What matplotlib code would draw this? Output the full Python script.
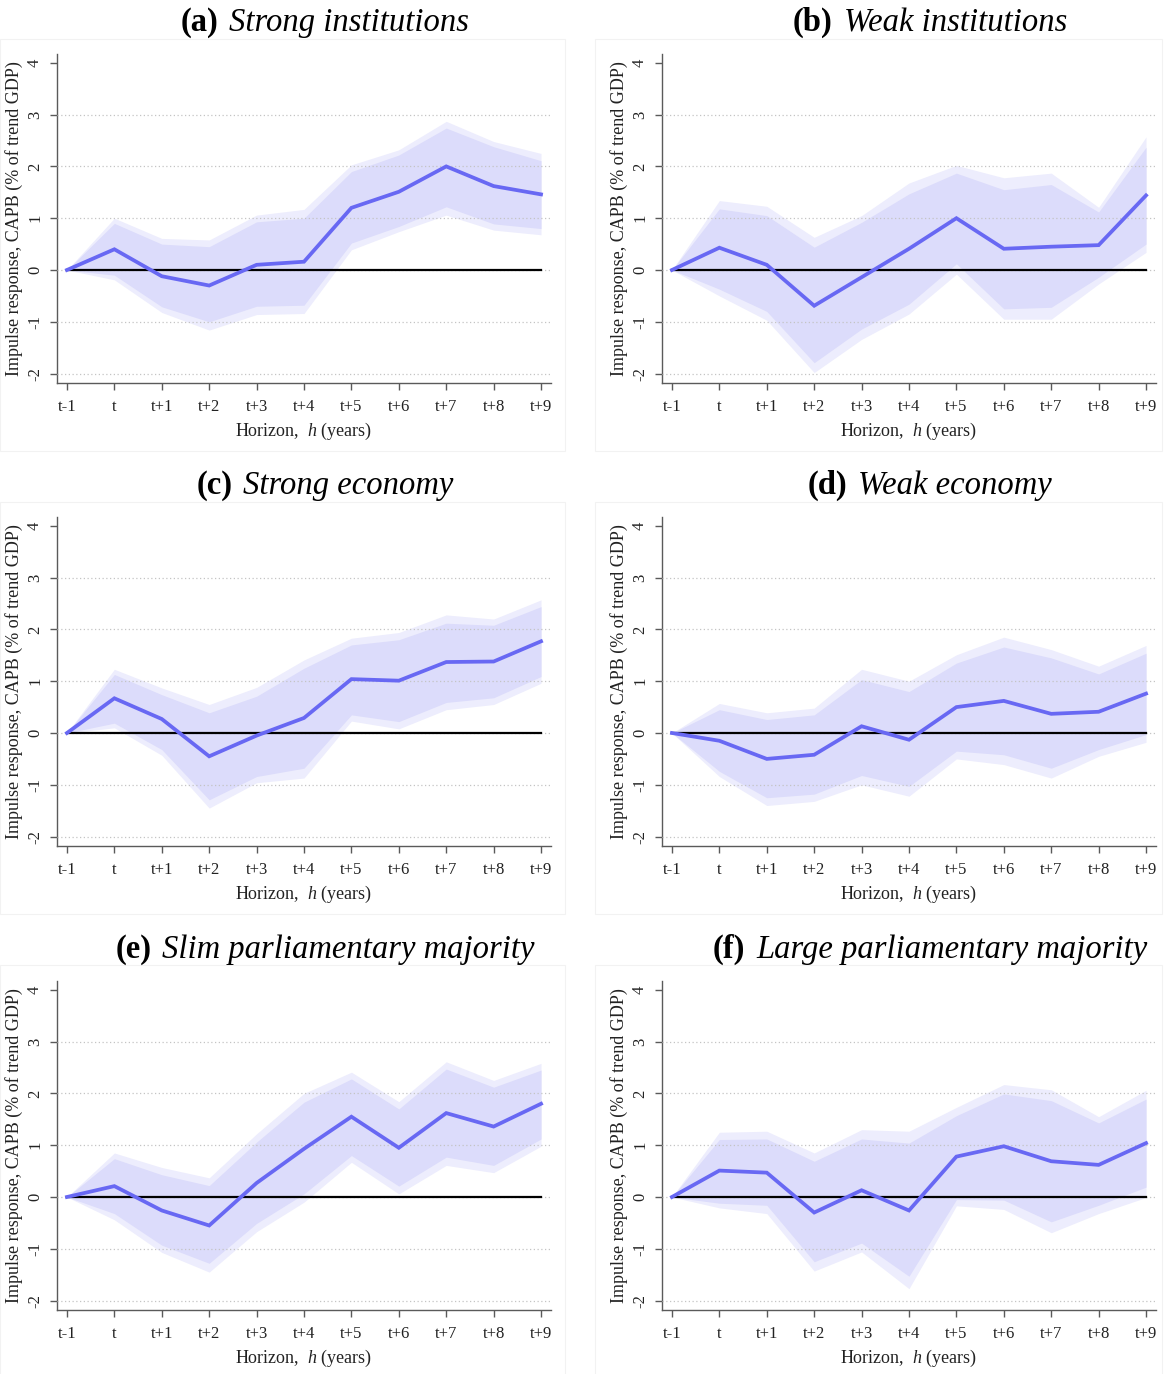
import matplotlib
matplotlib.use("Agg")
import matplotlib.pyplot as plt
from matplotlib.patches import Rectangle

# ---------------------------------------------------------------- data
horizons = ["t-1", "t", "t+1", "t+2", "t+3", "t+4", "t+5", "t+6", "t+7", "t+8", "t+9"]
yticks = [-2, -1, 0, 1, 2, 3, 4]
grid_levels = [-2, -1, 0, 1, 2, 3]

panel_tags = ["(a)", "(b)", "(c)", "(d)", "(e)", "(f)"]
panel_names = ["Strong institutions", "Weak institutions",
               "Strong economy", "Weak economy",
               "Slim parliamentary majority", "Large parliamentary majority"]

# (a) Strong institutions
a_irf  = [0, 0.40, -0.12, -0.30, 0.10, 0.16, 1.20, 1.51, 2.00, 1.62, 1.46]
a_hi68 = [0, 0.90, 0.50, 0.45, 0.93, 1.00, 1.90, 2.22, 2.74, 2.38, 2.11]
a_hi90 = [0, 1.00, 0.61, 0.58, 1.06, 1.17, 2.03, 2.32, 2.87, 2.48, 2.25]
a_lo68 = [0, -0.10, -0.71, -1.00, -0.70, -0.68, 0.52, 0.84, 1.22, 0.89, 0.80]
a_lo90 = [0, -0.19, -0.82, -1.16, -0.86, -0.84, 0.39, 0.74, 1.06, 0.77, 0.68]

# (b) Weak institutions
b_irf  = [0, 0.43, 0.10, -0.69, -0.14, 0.41, 1.00, 0.41, 0.45, 0.48, 1.44]
b_hi68 = [0, 1.18, 1.05, 0.44, 0.92, 1.47, 1.87, 1.55, 1.65, 1.12, 2.37]
b_hi90 = [0, 1.34, 1.23, 0.63, 1.05, 1.68, 2.02, 1.78, 1.87, 1.21, 2.57]
b_lo68 = [0, -0.37, -0.80, -1.79, -1.14, -0.66, 0.12, -0.75, -0.72, -0.14, 0.50]
b_lo90 = [0, -0.50, -0.97, -1.98, -1.34, -0.85, -0.08, -0.95, -0.95, -0.27, 0.34]

# (c) Strong economy
c_irf  = [0, 0.67, 0.27, -0.45, -0.05, 0.29, 1.04, 1.01, 1.37, 1.38, 1.77]
c_hi68 = [0, 1.13, 0.74, 0.39, 0.71, 1.25, 1.70, 1.80, 2.12, 2.08, 2.44]
c_hi90 = [0, 1.23, 0.87, 0.55, 0.88, 1.41, 1.83, 1.94, 2.28, 2.20, 2.57]
c_lo68 = [0, 0.19, -0.32, -1.29, -0.84, -0.68, 0.35, 0.22, 0.59, 0.68, 1.09]
c_lo90 = [0, 0.10, -0.43, -1.45, -0.96, -0.87, 0.23, 0.08, 0.45, 0.55, 0.96]

# (d) Weak economy
d_irf  = [0, -0.15, -0.50, -0.42, 0.13, -0.13, 0.50, 0.62, 0.37, 0.41, 0.76]
d_hi68 = [0, 0.45, 0.26, 0.35, 1.03, 0.80, 1.35, 1.66, 1.45, 1.14, 1.54]
d_hi90 = [0, 0.57, 0.39, 0.48, 1.23, 1.00, 1.51, 1.85, 1.61, 1.29, 1.69]
d_lo68 = [0, -0.74, -1.25, -1.18, -0.82, -1.03, -0.35, -0.42, -0.68, -0.32, -0.03]
d_lo90 = [0, -0.84, -1.40, -1.32, -1.00, -1.22, -0.50, -0.61, -0.87, -0.45, -0.18]

# (e) Slim parliamentary majority
e_irf  = [0, 0.21, -0.26, -0.55, 0.27, 0.93, 1.55, 0.95, 1.62, 1.36, 1.80]
e_hi68 = [0, 0.74, 0.43, 0.22, 1.06, 1.83, 2.28, 1.70, 2.47, 2.12, 2.45]
e_hi90 = [0, 0.85, 0.57, 0.37, 1.22, 2.00, 2.41, 1.84, 2.61, 2.25, 2.58]
e_lo68 = [0, -0.32, -0.93, -1.28, -0.51, 0.06, 0.80, 0.21, 0.77, 0.61, 1.12]
e_lo90 = [0, -0.44, -1.07, -1.45, -0.67, -0.10, 0.67, 0.06, 0.61, 0.47, 0.98]

# (f) Large parliamentary majority
f_irf  = [0, 0.51, 0.47, -0.30, 0.13, -0.26, 0.78, 0.98, 0.69, 0.62, 1.04]
f_hi68 = [0, 1.11, 1.12, 0.69, 1.12, 1.04, 1.57, 1.99, 1.86, 1.43, 1.89]
f_hi90 = [0, 1.25, 1.27, 0.85, 1.30, 1.27, 1.73, 2.17, 2.07, 1.55, 2.06]
f_lo68 = [0, -0.12, -0.16, -1.25, -0.89, -1.53, -0.05, -0.06, -0.48, -0.16, 0.19]
f_lo90 = [0, -0.21, -0.32, -1.43, -1.06, -1.77, -0.17, -0.24, -0.69, -0.32, -0.01]

panels = [
    (a_irf, a_lo68, a_hi68, a_lo90, a_hi90),
    (b_irf, b_lo68, b_hi68, b_lo90, b_hi90),
    (c_irf, c_lo68, c_hi68, c_lo90, c_hi90),
    (d_irf, d_lo68, d_hi68, d_lo90, d_hi90),
    (e_irf, e_lo68, e_hi68, e_lo90, e_hi90),
    (f_irf, f_lo68, f_hi68, f_lo90, f_hi90),
]

# ---------------------------------------------------------------- style
SERIF = "Liberation Serif"
plt.rcParams["font.family"] = [SERIF, "DejaVu Serif"]
plt.rcParams["mathtext.fontset"] = "custom"
plt.rcParams["mathtext.rm"] = SERIF
plt.rcParams["mathtext.it"] = SERIF + ":italic"
plt.rcParams["mathtext.bf"] = SERIF + ":bold"

LINE_C = "#6868f3"
BAND68_C = "#dcdcfb"
BAND90_C = "#ededfd"
AXIS_C = "#5a5a5a"
TEXT_C = "#222222"

W, H = 1167, 1374
fig = plt.figure(figsize=(W / 100, H / 100), dpi=100)

XLIM = (-0.21, 10.21)
YLIM = (-2.19, 4.17)
PX_PER_UNIT = 51.8
ax_w_px = 494
ax_h_px = (YLIM[1] - YLIM[0]) * PX_PER_UNIT

col_left = [57, 662]
col_center = [325, 930]
row_zero = [270, 733, 1197]
row_box_top = [39, 502, 965]
title_base = [31, 494, 958]

x = list(range(len(horizons)))

renderer = fig.canvas.get_renderer()

for i, (irf, lo68, hi68, lo90, hi90) in enumerate(panels):
    r, c = divmod(i, 2)

    # faint frame around each graph region
    bx0 = 0 if c == 0 else 595
    bx1 = 565 if c == 0 else 1162
    by0 = row_box_top[r]
    by1 = by0 + 412
    fig.patches.append(Rectangle((bx0 / W, 1 - by1 / H), (bx1 - bx0) / W, (by1 - by0) / H,
                                 transform=fig.transFigure, fill=False,
                                 edgecolor="#f2f2f2", lw=0.8, zorder=0))

    top_px = row_zero[r] - YLIM[1] * PX_PER_UNIT
    bottom_px = top_px + ax_h_px
    ax = fig.add_axes([col_left[c] / W, 1 - bottom_px / H, ax_w_px / W, ax_h_px / H])
    ax.set_xlim(XLIM)
    ax.set_ylim(YLIM)

    ax.fill_between(x, lo90, hi90, color=BAND90_C, lw=0, zorder=1)
    ax.fill_between(x, lo68, hi68, color=BAND68_C, lw=0, zorder=2)
    ax.hlines(grid_levels, XLIM[0], XLIM[1], colors="#c4c4c4", lw=0.9,
              linestyles=(0, (1, 2)), zorder=3)
    ax.plot([x[0], x[-1]], [0, 0], color="black", lw=1.6, zorder=4)
    ax.plot(x, irf, color=LINE_C, lw=2.7, zorder=5, solid_joinstyle="miter")

    for s in ("top", "right"):
        ax.spines[s].set_visible(False)
    for s in ("left", "bottom"):
        ax.spines[s].set_color(AXIS_C)
        ax.spines[s].set_linewidth(1.0)

    ax.set_xticks(x)
    ax.set_xticklabels(horizons)
    ax.set_yticks(yticks)
    ax.set_yticklabels([str(v) for v in yticks])
    ax.tick_params(axis="both", colors=AXIS_C, labelcolor=TEXT_C, length=5,
                   width=1.0, labelsize=12)
    ax.tick_params(axis="x", pad=6)
    ax.tick_params(axis="y", pad=5)
    for lab in ax.get_yticklabels():
        lab.set_rotation(90)
        lab.set_va("center")
        lab.set_ha("right")

    ax.text(-43 / ax_w_px, 0.5, "Impulse response, CAPB (% of trend GDP)",
            transform=ax.transAxes, rotation=90, ha="center", va="center",
            fontsize=13, color=TEXT_C)
    ax.text(0.5, -(431 - 383.5) / ax_h_px, r"Horizon,  $h$ (years)",
            transform=ax.transAxes, ha="center", va="center",
            fontsize=13, color=TEXT_C)

    # panel heading: bold tag followed by italic name, centred as a whole
    yb = 1 - title_base[r] / H
    t1 = fig.text(0, yb, panel_tags[i], fontsize=23.5, fontweight="bold",
                  ha="left", va="baseline", color="black")
    t2 = fig.text(0, yb, panel_names[i], fontsize=23.5, fontstyle="italic",
                  ha="left", va="baseline", color="black")
    w1 = t1.get_window_extent(renderer).width
    w2 = t2.get_window_extent(renderer).width
    gap = 11
    x0 = col_center[c] - (w1 + gap + w2) / 2
    t1.set_x(x0 / W)
    t2.set_x((x0 + w1 + gap) / W)

fig.savefig("out.png", dpi=100, facecolor="white")
